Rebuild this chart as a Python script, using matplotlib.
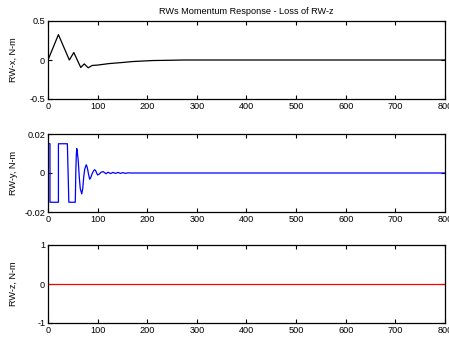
import matplotlib
matplotlib.use('Agg')
import matplotlib.pyplot as plt

plt.rcParams['font.family'] = 'Liberation Sans'
plt.rcParams['font.size'] = 6.6

# RW-x momentum (time, N-m)
tx = [0, 21, 43, 52, 66, 73, 81, 89, 100, 123, 150, 170, 210, 240, 274, 300, 800]
rwx = [0, 0.325, 0.0, 0.096, -0.096, -0.05, -0.1, -0.07, -0.065, -0.046, -0.032, -0.02, -0.007, -0.004, 0.0, 0.0, 0.0]

# RW-y momentum (time, N-m)
ty = [0, 0, 4, 4, 21, 21, 39, 42, 55, 56, 57, 58, 59, 61, 63, 65, 68, 70, 72, 74, 77, 79, 82, 84, 86, 89,
      92, 94, 96, 98, 100, 103, 107, 111, 114, 117, 121, 126, 131, 136, 141, 146, 151, 156, 161, 166, 800]
rwy = [0, 0.015, 0.015, -0.015, -0.015, 0.015, 0.015, -0.015, -0.015, 0.0, 0.009, 0.0125, 0.011, 0.006, -0.002,
       -0.008, -0.0107, -0.008, -0.002, 0.002, 0.0042, 0.003, -0.001, -0.0032, -0.0025, -0.0003,
       0.0012, 0.0017, 0.0012, 0.0, -0.001, -0.0006, 0.0004, 0.0007, 0.0002, -0.0004, 0.0004, -0.0003,
       0.0003, -0.0002, 0.0003, -0.0002, 0.0002, -0.0002, 0.0001, 0.0, 0.0]

# RW-z (lost wheel)
tz = [0, 800]
rwz = [0, 0]

series = [
    (tx, rwx, 'k', 'RW-x, N-m', [-0.5, 0, 0.5], ['-0.5', '0', '0.5']),
    (ty, rwy, 'b', 'RW-y, N-m', [-0.02, 0, 0.02], ['-0.02', '0', '0.02']),
    (tz, rwz, 'r', 'RW-z, N-m', [-1, 0, 1], ['-1', '0', '1']),
]

fig = plt.figure(figsize=(4.49, 3.39), dpi=100)
W, H = 449, 339
tops = [21, 134, 245]
for (t, v, c, lab, yt, ytl), top in zip(series, tops):
    ax = fig.add_axes([48 / W, 1 - (top + 78) / H, (445 - 48) / W, 78 / H])
    ax.plot(t, v, color=c, lw=0.9)
    ax.set_xlim(0, 800)
    ax.set_ylim(yt[0], yt[-1])
    ax.set_xticks(range(0, 801, 100))
    ax.set_yticks(yt)
    ax.set_yticklabels(ytl)
    ax.tick_params(direction='in', length=3, width=0.8, top=True, right=True, pad=2)
    ax.set_ylabel(lab)
    ax.yaxis.set_label_coords(-0.076, 0.5)
    for s in ax.spines.values():
        s.set_linewidth(0.9)
    if top == tops[0]:
        ax.set_title('RWs Momentum Response - Loss of RW-z', fontsize=6.6, pad=5)

fig.savefig('out.png', dpi=100)
